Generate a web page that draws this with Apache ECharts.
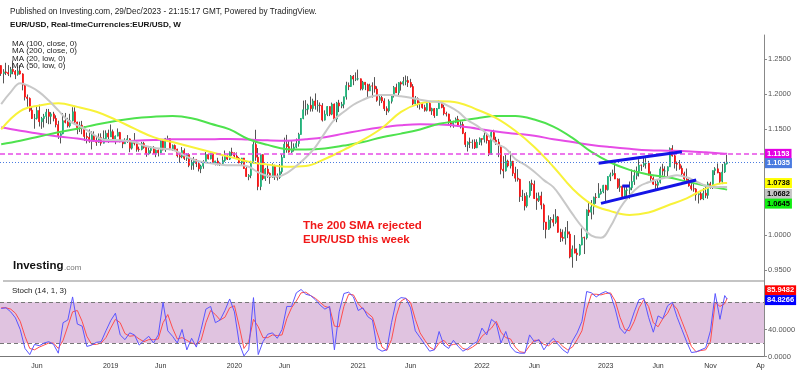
<!DOCTYPE html>
<html><head><meta charset="utf-8">
<script src="https://cdn.jsdelivr.net/npm/echarts@6/dist/echarts.min.js"></script>
<style>html,body{margin:0;padding:0;background:#fff}#c{width:800px;height:376px}</style>
</head><body><div id="c"></div>
<script>
// ---- categories (weekly bars) ----
const FIRST_WEEK_UTC = Date.UTC(2018, 1, 19);
const N_WEEKS = 321; // data weeks + empty future weeks on the axis
const TICK_DATES = ['2018-06-04','2019-01-07','2019-06-03','2020-01-06','2020-06-01','2021-01-04','2021-06-07','2022-01-03','2022-06-06','2023-01-02','2023-06-05','2023-11-06','2024-04-01'];
const TICK_TEXT  = ['Jun','2019','Jun','2020','Jun','2021','Jun','2022','Jun','2023','Jun','Nov','Ap'];
const PRICE_TICKS = [0.95, 1.00, 1.15, 1.20, 1.25];
const STOCH_TICKS = [0, 40];

// ---- weekly EUR/USD OHLC (pips, /10000) ----
const OPEN = [12407,12294,12317,12307,12287,12352,12324,12282,12331,12288,12130,11960,11940,11772,11654,11658,11768,11610,11655,11685,11745,11686,11720,11657,11568,11410,11438,11623,11600,11550,11623,11750,11604,11525,11560,11511,11400,11387,11334,11417,11338,11317,11384,11305,11370,11445,
11394,11468,11364,11405,11457,11324,11296,11337,11365,11234,11326,11302,11218,11216,11299,11246,11150,11199,11234,11159,11204,11169,11334,11209,11369,11370,11226,11271,11219,11126,11108,11199,11089,11143,10990,11029,11074,11015,10940,10978,11040,11143,11082,11166,11017,11052,11020,11016,11059,11120,11078,11176,
11167,11122,11090,11026,11093,10944,10831,10847,11026,11284,11106,10690,11141,10802,10936,10876,10820,10983,10838,10819,10900,11100,11290,11255,11178,11219,11248,11299,11428,11656,11778,11787,11842,11796,11904,11838,11846,11838,11632,11715,11825,11717,11860,11647,11876,11833,11857,11963,12122,12110,12255,12215,
12216,12219,12077,12170,12136,12046,12118,12117,12074,11914,11952,11904,11795,11763,11900,11985,12096,12020,12164,12144,12180,12193,12166,12108,11864,11937,11863,11874,11810,11772,11870,11762,11795,11697,11795,11882,11812,11726,11718,11595,11574,11600,11645,11558,11569,11444,11287,11318,11315,11318,11239,11319,
11370,11359,11411,11343,11146,11457,11349,11320,11268,10933,10911,11050,10983,11046,10877,10808,10791,10546,10551,10413,10562,10733,10720,10518,10492,10555,10427,10184,10081,10213,10222,10181,10258,10039,9965,9953,10045,10013,9689,9802,9743,9722,9859,9966,9959,10355,10325,10399,10536,10532,10586,10617,
10705,10645,10830,10856,10874,10796,10677,10694,10547,10635,10642,10672,10760,10843,10902,10992,10991,11016,11019,10850,10805,10722,10708,10750,10939,10909,10910,10968,11229,11125,11016,11006,10947,10872,10796,10774,10699,10657,10654,10573,10587,10512,10593,10564,10727,10684,10915,10940,10884,10762,10895,11012];
const HIGH = [12410,12356,12446,12413,12388,12476,12343,12396,12414,12297,12133,11996,11955,11832,11720,11840,11852,11678,11721,11791,11791,11745,11750,11700,11623,11446,11733,11734,11665,11721,11815,11815,11610,11610,11621,11547,11456,11500,11472,11472,11401,11443,11444,11486,11487,11497,
11570,11498,11415,11514,11465,11342,11374,11420,11374,11339,11448,11325,11255,11324,11324,11265,11265,11263,11264,11216,11215,11348,11348,11379,11412,11376,11286,11286,11226,11162,11250,11230,11160,11164,11085,11109,11075,11025,10999,11063,11179,11150,11176,11176,11055,11097,11031,11117,11200,11144,11188,11240,
11171,11173,11107,11096,11095,10966,10865,11054,11356,11495,11236,11147,11147,10953,10990,10889,11019,10999,10874,11009,11146,11383,11423,11348,11349,11302,11371,11452,11660,11909,11916,11865,11966,11936,12011,11917,11883,11873,11771,11831,11825,11881,11869,11891,11920,11891,11965,12177,12167,12272,12273,12310,
12349,12223,12189,12172,12150,12149,12169,12243,12113,11990,11989,11942,11828,11927,11995,12117,12150,12172,12183,12245,12266,12256,12218,12143,11975,11955,11895,11880,11851,11909,11899,11808,11803,11804,11909,11885,11848,11752,11724,11641,11624,11669,11692,11617,11609,11464,11330,11383,11355,11360,11360,11386,
11371,11482,11436,11347,11483,11495,11395,11366,11274,11121,11137,11070,11185,11054,10970,10936,10799,10642,10595,10607,10765,10787,10774,10601,10605,10615,10448,10185,10279,10255,10294,10368,10271,10089,10079,10113,10198,10051,9852,9999,9809,9873,10094,9977,10364,10481,10497,10545,10595,10737,10658,10713,
10713,10835,10887,10929,11033,10806,10804,10705,10691,10700,10760,10930,10926,10973,11076,11000,11095,11092,11053,10904,10831,10779,10787,10971,11012,10976,10974,11244,11276,11149,11043,11065,10987,10900,10945,10806,10769,10737,10666,10588,10640,10668,10694,10757,10756,10917,10964,11017,10895,11009,11040,11139];
const LOW = [12260,12154,12272,12258,12240,12284,12215,12263,12278,12055,11911,11822,11750,11649,11510,11640,11541,11508,11527,11590,11574,11575,11614,11529,11365,11301,11431,11585,11526,11528,11612,11572,11432,11463,11432,11335,11301,11310,11216,11325,11267,11310,11269,11301,11367,11309,
11394,11356,11290,11402,11317,11234,11296,11309,11176,11214,11273,11183,11183,11203,11226,11111,11135,11160,11152,11106,11116,11163,11202,11181,11361,11206,11193,11200,11101,11027,11091,11066,11052,10964,10926,10927,10965,10903,10879,10941,11024,11073,11074,11015,10989,10989,10981,11003,11040,11066,11065,11125,
11086,11085,11018,10993,10940,10828,10778,10807,11013,11054,10636,10637,10779,10768,10812,10727,10812,10782,10775,10797,10870,11096,11169,11169,11167,11186,11232,11255,11426,11644,11696,11711,11753,11754,11781,11753,11737,11612,11626,11689,11689,11702,11622,11603,11746,11801,11800,11923,12058,12104,12128,12186,
12195,12054,12055,12058,11952,12045,11952,12022,11893,11836,11874,11761,11704,11740,11868,11953,12018,11985,12051,12123,12127,12103,12093,11847,11849,11807,11782,11794,11752,11755,11758,11706,11664,11693,11794,11800,11700,11684,11563,11529,11523,11588,11535,11513,11433,11249,11186,11235,11226,11222,11234,11279,
11272,11314,11299,11121,11139,11341,11280,11106,10862,10806,10901,10961,10945,10837,10757,10760,10470,10484,10349,10389,10532,10627,10513,10358,10469,10366,10072,9952,10073,10097,10123,10159,10033,9901,9910,9864,9956,9669,9536,9740,9632,9705,9854,9730,9936,10271,10222,10290,10444,10529,10574,10594,
10483,10631,10766,10835,10794,10655,10613,10533,10533,10524,10516,10636,10712,10788,10831,10910,10965,10943,10849,10762,10713,10635,10662,10732,10844,10833,10834,10966,11113,10945,10912,10927,10850,10765,10772,10686,10632,10615,10488,10448,10495,10496,10524,10516,10658,10654,10852,10877,10723,10723,10882,11001];
const CLOSE = [12294,12317,12307,12287,12352,12324,12282,12331,12288,12130,11960,11940,11772,11654,11658,11768,11610,11655,11685,11745,11686,11720,11657,11568,11410,11438,11623,11600,11550,11623,11750,11604,11525,11560,11511,11400,11387,11334,11417,11338,11317,11384,11305,11370,11445,11394,
11468,11364,11405,11457,11324,11296,11337,11365,11234,11326,11302,11218,11216,11299,11246,11150,11199,11234,11159,11204,11169,11334,11209,11369,11370,11226,11271,11219,11126,11108,11199,11089,11143,10990,11029,11074,11015,10940,10978,11040,11143,11082,11166,11017,11052,11020,11016,11059,11120,11078,11176,11167,
11122,11090,11026,11093,10944,10831,10847,11026,11284,11106,10690,11141,10802,10936,10876,10820,10983,10838,10819,10900,11100,11290,11255,11178,11219,11248,11299,11428,11656,11778,11787,11842,11796,11904,11838,11846,11838,11632,11715,11825,11717,11860,11647,11876,11833,11857,11963,12122,12110,12255,12215,12216,
12219,12077,12170,12136,12046,12118,12117,12074,11914,11952,11904,11795,11763,11900,11985,12096,12020,12164,12144,12180,12193,12166,12108,11864,11937,11863,11874,11810,11772,11870,11762,11795,11697,11795,11882,11812,11726,11718,11595,11574,11600,11645,11558,11569,11444,11287,11318,11315,11318,11239,11319,11370,
11359,11411,11343,11146,11457,11349,11320,11268,10933,10911,11050,10983,11046,10877,10808,10791,10546,10551,10413,10562,10733,10720,10518,10492,10555,10427,10184,10081,10213,10222,10181,10258,10039,9965,9953,10045,10013,9689,9802,9743,9722,9859,9966,9959,10355,10325,10399,10536,10532,10586,10617,10705,
10645,10830,10856,10874,10796,10677,10694,10547,10635,10642,10672,10760,10843,10902,10992,10991,11016,11019,10850,10805,10722,10708,10750,10939,10909,10910,10968,11229,11125,11016,11006,10947,10872,10796,10774,10699,10657,10654,10573,10587,10512,10593,10564,10727,10684,10915,10940,10884,10762,10895,11012,11035];

// ---- moving averages (every MA_STEP bars, last value = last bar) ----
const MA_STEP = 8;
const MA200_CLOSE = [1.153,1.148,1.144,1.140,1.137,1.1335,1.133,1.134,1.135,1.136,1.136,1.136,1.1365,1.1355,1.1345,1.134,1.136,1.139,1.144,1.149,1.153,1.156,1.1575,1.157,1.155,1.151,1.147,1.144,1.141,1.136,1.132,1.128,1.125,1.1225,1.1205,1.1198,1.119,1.1175,1.1156,1.1153];
const MA100_CLOSE = [1.129,1.134,1.140,1.146,1.151,1.157,1.162,1.166,1.168,1.169,1.166,1.158,1.150,1.136,1.128,1.122,1.1215,1.123,1.127,1.132,1.139,1.144,1.150,1.158,1.162,1.166,1.169,1.169,1.164,1.154,1.138,1.118,1.103,1.0925,1.086,1.082,1.076,1.070,1.0652,1.0645];
const MA50_LOW = [1.150,1.176,1.184,1.187,1.182,1.175,1.164,1.151,1.139,1.132,1.125,1.118,1.111,1.104,1.100,1.097,1.098,1.108,1.121,1.135,1.152,1.175,1.187,1.190,1.188,1.178,1.166,1.148,1.125,1.097,1.066,1.044,1.034,1.0285,1.032,1.042,1.052,1.066,1.0738,1.0738];
const MA20_STEP = 4;
const MA20_LOW = [1.186,1.203,1.2155,1.211,1.203,1.191,1.177,1.163,1.156,1.149,1.140,1.135,1.135,1.134,1.132,1.127,1.124,1.1225,1.121,1.115,1.108,1.104,1.102,1.100,1.099,1.099,1.097,1.089,1.084,1.083,1.088,1.098,1.110,1.125,1.145,1.164,1.175,1.185,1.192,1.197,1.199,1.199,1.197,1.195,1.192,1.190,1.189,1.183,1.175,1.163,1.155,1.144,1.130,1.123,1.108,1.100,1.090,1.078,1.068,1.050,1.030,1.012,0.999,0.996,1.012,1.038,1.056,1.069,1.075,1.079,1.082,1.085,1.082,1.076,1.070,1.068,1.0682,1.0682];

// ---- stochastic (14,1,3), read every STOCH_STEP bars, last value = last bar ----
const STOCH_STEP = 2;
const STOCH_K = [71,72,66,57,40,12,3,18,16,20,22,18,5,50,54,88,48,45,15,17,21,22,38,53,64,32,25,35,32,17,24,30,20,32,80,38,30,20,40,10,27,14,40,70,74,50,54,68,85,66,20,1,10,87,3,22,33,35,27,40,74,74,94,99,92,90,84,76,70,74,10,66,93,95,88,68,72,59,54,12,8,10,50,82,87,86,72,38,28,18,8,10,37,17,12,24,15,8,12,18,22,42,32,55,49,20,37,15,7,5,5,32,22,25,10,20,27,18,10,5,23,35,52,96,94,88,93,96,92,70,42,34,45,66,84,86,58,36,60,56,75,80,58,40,22,6,7,10,13,38,93,55,90,84.8266];
const STOCH_D = [72,72,70,64,52,30,12,10,14,17,20,20,12,24,45,66,68,52,30,18,18,20,28,42,55,50,34,30,31,26,22,25,25,26,50,62,42,26,28,24,20,18,24,50,68,62,54,58,72,75,45,12,22,55,44,28,28,32,31,32,56,72,82,94,95,90,86,80,74,72,45,44,74,92,91,78,70,64,58,35,14,9,25,60,82,86,80,55,35,24,14,10,20,24,16,18,19,12,10,14,19,30,36,42,52,36,28,26,14,7,6,16,24,24,18,16,22,22,15,10,14,25,38,70,92,92,91,93,94,82,58,40,38,52,72,84,74,50,44,56,64,78,70,52,34,15,7,9,10,22,80,74,78,85.9482];

// ---- last values shown on the price scale ----
const LAST_MA200 = 1.1153, LAST_CLOSE = 1.1035, LAST_MA50 = 1.0738, LAST_MA20 = 1.0682, LAST_MA100 = 1.0645;

// ---- hand-drawn trend lines [date, price] ----
const TREND_UPPER = [['2022-12-12', 1.1018], ['2023-08-14', 1.1183]];
const TREND_LOWER = [['2022-12-19', 1.0450], ['2023-09-25', 1.0781]];
const TREND_SHORT = [['2023-02-20', 1.0696], ['2023-03-13', 1.0696]];

// ---------- build ----------
const cats = [];
for (let i = 0; i < N_WEEKS; i++) cats.push(new Date(FIRST_WEEK_UTC + i * 7 * 864e5).toISOString().slice(0, 10));
const nData = CLOSE.length;
const px = v => v / 10000;
const bodies = CLOSE.map((c, i) => { const o = OPEN[i]; return [px(o), px(c), px(Math.min(o, c)), px(Math.max(o, c))]; });
const wicks = CLOSE.map((c, i) => [px(LOW[i]), px(HIGH[i]), px(LOW[i]), px(HIGH[i])]);
function sampled(vals, step) {
  const a = new Array(nData).fill(null);
  vals.forEach((v, i) => { const b = i < vals.length - 1 ? i * step : nData - 1; a[b] = v; });
  return a;
}
const FONT = '"Liberation Sans", Arial, sans-serif';
const UP = '#22b87e', DOWN = '#ff1414', WICK = '#555';

function valLabel(bg, fg, dy) {
  return { show: true, position: 'end', distance: 1, formatter: p => Number(p.value).toFixed(4),
    backgroundColor: bg, color: fg, padding: [1, 2, 1, 2], fontSize: 7.5, fontWeight: 'bold', fontFamily: FONT, offset: [0, dy] };
}
const hidden = { color: 'rgba(0,0,0,0)', width: 0 };
const axisLbl = { fontSize: 7.5, color: '#555', margin: 4, fontFamily: FONT };

const chart = echarts.init(document.getElementById('c'), null, { renderer: 'canvas' });
const option = {
  animation: false,
  backgroundColor: '#fff',
  textStyle: { fontFamily: FONT },
  grid: [
    { left: 0, top: 35, width: 764, height: 246 },
    { left: 0, top: 281, width: 764, height: 75.6 }
  ],
  xAxis: [
    { type: 'category', gridIndex: 0, data: cats, boundaryGap: true, show: false },
    { type: 'category', gridIndex: 1, data: cats, boundaryGap: true,
      axisLine: { lineStyle: { color: '#777', width: 1 } }, axisTick: { show: false },
      axisLabel: { interval: (i, v) => TICK_DATES.indexOf(v) >= 0, formatter: v => TICK_TEXT[TICK_DATES.indexOf(v)] || '',
        fontSize: 7, color: '#333', margin: 6, fontFamily: FONT } }
  ],
  yAxis: [
    { type: 'value', gridIndex: 0, position: 'right', min: 0.9347, max: 1.2841, splitLine: { show: false },
      axisLine: { show: true, lineStyle: { color: '#888' } },
      axisTick: { show: true, length: 3, customValues: PRICE_TICKS, lineStyle: { color: '#888' } },
      axisLabel: Object.assign({ customValues: PRICE_TICKS, formatter: v => v.toFixed(4) }, axisLbl) },
    { type: 'value', gridIndex: 1, position: 'right', min: 0, max: 111.5, splitLine: { show: false },
      axisLine: { show: true, lineStyle: { color: '#888' } },
      axisTick: { show: true, length: 3, customValues: STOCH_TICKS, lineStyle: { color: '#888' } },
      axisLabel: Object.assign({ customValues: STOCH_TICKS, formatter: v => v.toFixed(4) }, axisLbl) }
  ],
  series: [
    { name: 'wick', type: 'candlestick', xAxisIndex: 0, yAxisIndex: 0, data: wicks, barWidth: 0.2,
      itemStyle: { color: WICK, color0: WICK, borderColor: WICK, borderColor0: WICK, borderWidth: 1 }, z: 2 },
    { name: 'EUR/USD', type: 'candlestick', xAxisIndex: 0, yAxisIndex: 0, data: bodies, barWidth: 1.5,
      itemStyle: { color: UP, color0: DOWN, borderColor: UP, borderColor0: DOWN, borderWidth: 0.8 }, z: 3,
      markLine: { silent: true, symbol: 'none', animation: false, precision: 4, data: [
        { yAxis: LAST_MA200, lineStyle: { color: '#e64ce6', type: [5, 3], width: 1.5 }, label: valLabel('#e400e4', '#fff', 0) },
        { yAxis: LAST_CLOSE, lineStyle: { color: '#4a7be0', type: [1, 2], width: 1 }, label: valLabel('#4a7be0', '#fff', 1) },
        { yAxis: LAST_MA50, lineStyle: hidden, label: valLabel('#ffff00', '#000', 0) },
        { yAxis: LAST_MA20, lineStyle: hidden, label: valLabel('#c4c4c4', '#000', 7) },
        { yAxis: LAST_MA100, lineStyle: hidden, label: valLabel('#11ee11', '#000', 14) }
      ] } },
    { name: 'MA200', type: 'line', xAxisIndex: 0, yAxisIndex: 0, data: sampled(MA200_CLOSE, MA_STEP), connectNulls: true, smooth: 0.4,
      showSymbol: false, lineStyle: { color: '#e64ce6', width: 2 }, z: 4 },
    { name: 'MA100', type: 'line', xAxisIndex: 0, yAxisIndex: 0, data: sampled(MA100_CLOSE, MA_STEP), connectNulls: true, smooth: 0.4,
      showSymbol: false, lineStyle: { color: '#4ee24e', width: 2 }, z: 4 },
    { name: 'MA50', type: 'line', xAxisIndex: 0, yAxisIndex: 0, data: sampled(MA50_LOW, MA_STEP), connectNulls: true, smooth: 0.4,
      showSymbol: false, lineStyle: { color: '#f8f23a', width: 2 }, z: 4 },
    { name: 'MA20', type: 'line', xAxisIndex: 0, yAxisIndex: 0, data: sampled(MA20_LOW, MA20_STEP), connectNulls: true, smooth: 0.4,
      showSymbol: false, lineStyle: { color: '#c8c8c8', width: 2 }, z: 4 },
    { name: 'up', type: 'line', xAxisIndex: 0, yAxisIndex: 0, data: TREND_UPPER, showSymbol: false, lineStyle: { color: '#1414e6', width: 3 }, z: 6 },
    { name: 'lo', type: 'line', xAxisIndex: 0, yAxisIndex: 0, data: TREND_LOWER, showSymbol: false, lineStyle: { color: '#1414e6', width: 3 }, z: 6 },
    { name: 'sh', type: 'line', xAxisIndex: 0, yAxisIndex: 0, data: TREND_SHORT, showSymbol: false, lineStyle: { color: '#1414e6', width: 3 }, z: 6 },
    { name: '%D', type: 'line', xAxisIndex: 1, yAxisIndex: 1, data: sampled(STOCH_D, STOCH_STEP), connectNulls: true,
      showSymbol: false, lineStyle: { color: '#ff4d4d', width: 1 }, z: 4,
      markArea: { silent: true, itemStyle: { color: '#e0c3e0' }, data: [[{ yAxis: 20 }, { yAxis: 80 }]] },
      markLine: { silent: true, symbol: 'none', animation: false, precision: 4, data: [
        { yAxis: 80, lineStyle: { color: '#777', type: [4, 3], width: 1 }, label: { show: false } },
        { yAxis: 20, lineStyle: { color: '#777', type: [4, 3], width: 1 }, label: { show: false } },
        { yAxis: STOCH_D[STOCH_D.length - 1], lineStyle: hidden, label: valLabel('#ff0000', '#fff', -8) }
      ] } },
    { name: '%K', type: 'line', xAxisIndex: 1, yAxisIndex: 1, data: sampled(STOCH_K, STOCH_STEP), connectNulls: true,
      showSymbol: false, lineStyle: { color: '#5a55ff', width: 1 }, z: 5,
      markLine: { silent: true, symbol: 'none', animation: false, precision: 4, data: [
        { yAxis: STOCH_K[STOCH_K.length - 1], lineStyle: hidden, label: valLabel('#0000ff', '#fff', 1) }
      ] } }
  ],
  graphic: [
    { type: 'text', x: 10, y: 12, style: { text: 'Published on Investing.com, 29/Dec/2023 - 21:15:17 GMT, Powered by TradingView.', font: '8.2px ' + FONT, fill: '#222', verticalAlign: 'middle' } },
    { type: 'text', x: 10, y: 25, style: { text: 'EUR/USD, Real-timeCurrencies:EUR/USD, W', font: 'bold 8.1px ' + FONT, fill: '#111', verticalAlign: 'middle' } },
    { type: 'text', x: 12, y: 43.3, z: 20, style: { text: 'MA (100, close, 0)', font: '8px ' + FONT, fill: '#222', verticalAlign: 'middle' } },
    { type: 'text', x: 12, y: 50.8, z: 20, style: { text: 'MA (200, close, 0)', font: '8px ' + FONT, fill: '#222', verticalAlign: 'middle' } },
    { type: 'text', x: 12, y: 58.3, z: 20, style: { text: 'MA (20, low, 0)', font: '8px ' + FONT, fill: '#222', verticalAlign: 'middle' } },
    { type: 'text', x: 12, y: 65.8, z: 20, style: { text: 'MA (50, low, 0)', font: '8px ' + FONT, fill: '#222', verticalAlign: 'middle' } },
    { type: 'text', x: 303, y: 226, z: 20, style: { text: 'The 200 SMA rejected', font: 'bold 11.5px ' + FONT, fill: '#f01818', verticalAlign: 'middle' } },
    { type: 'text', x: 303, y: 240, z: 20, style: { text: 'EUR/USD this week', font: 'bold 11.5px ' + FONT, fill: '#f01818', verticalAlign: 'middle' } },
    { type: 'text', x: 13, y: 266, z: 20, style: { text: 'Investing', font: 'bold 11.5px ' + FONT, fill: '#111', verticalAlign: 'middle' } },
    { type: 'text', x: 64, y: 267.5, z: 20, style: { text: '.com', font: '8px ' + FONT, fill: '#777', verticalAlign: 'middle' } },
    { type: 'line', z: 20, shape: { x1: 3, y1: 281, x2: 764, y2: 281 }, style: { stroke: '#c4c4c4', lineWidth: 2 } },
    { type: 'text', x: 12, y: 290.5, z: 20, style: { text: 'Stoch (14, 1, 3)', font: '8px ' + FONT, fill: '#222', verticalAlign: 'middle' } }
  ]
};
chart.setOption(option);
</script>
</body></html>
